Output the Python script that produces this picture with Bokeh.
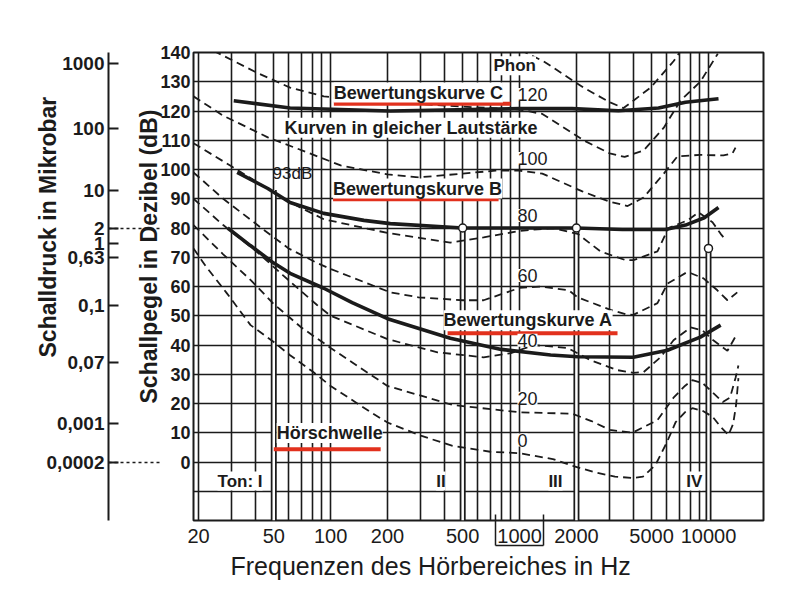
from bokeh.plotting import figure
from bokeh.models import FixedTicker, LinearAxis, LogAxis, Label, Title
from bokeh.embed import file_html
from bokeh.resources import INLINE

# ---------------- data ----------------
x_ticks = [20, 50, 100, 200, 500, 1000, 2000, 5000, 10000]
x_tick_labels = ["20", "50", "100", "200", "500", "1000", "2000", "5000", "10000"]
x_grid = [20, 30, 40, 50, 60, 70, 80, 90, 100, 200, 300, 400, 500, 600, 700, 800, 900,
          1000, 2000, 3000, 4000, 5000, 6000, 7000, 8000, 9000, 10000, 20000]
db_ticks = list(range(0, 141, 10))
db_grid = list(range(-20, 141, 10))
mb_labels = ["1000", "100", "10", "2", "1", "0,63", "0,1", "0,07", "0,001", "0,0002"]
mb_db = [136.2, 114, 92.8, 80, 74.7, 69.9, 53.5, 34, 13.2, 0]

# equal loudness contours (Phon)
p0_f = [18.8, 21.8, 28, 37.7, 50, 61, 80, 100, 163, 200, 300, 442, 700, 1000, 1500, 1950, 2500,
        3200, 4000, 4500, 5240, 6000, 6700, 7500, 8220, 9300, 10500, 11600, 12750, 13500, 14000, 14400]
p0_db = [73, 67, 58, 46.8, 41, 36.5, 31, 26, 17, 13.5, 9, 5.5, 3.5, 3, 1, -1.5, -3.5,
         -5, -5.5, -5, -1, 6.5, 13.6, 17, 18.4, 17.5, 15.5, 12, 9.2, 13, 19.5, 28.7]
p20_f = [18.8, 27, 38, 50, 70, 100, 200, 442, 1000, 1900, 2400, 3000, 3950, 5370, 6530, 7500,
         8220, 9300, 10200, 11900, 13000, 13900, 14400]
p20_db = [81, 71, 62, 54, 46, 39, 26, 19.5, 17, 16.5, 14, 11, 10, 14.3, 22, 26,
          28, 27, 24.6, 20.5, 22, 28.7, 33]
p40_f = [18.8, 27, 41, 56, 85, 100, 200, 368, 645, 900, 1190, 1790, 2380, 3300, 4000, 4530,
         5570, 6530, 8050, 9300, 10600, 12600, 14200]
p40_db = [90, 81, 71.7, 63.8, 53.6, 50, 42, 37.5, 35.8, 37.2, 40, 39, 34.8, 31.4, 30.5, 30.7,
          35.8, 41.6, 46, 45, 41.6, 38, 44]
p60_f = [18.8, 27, 44, 60, 85, 100, 207, 292, 500, 645, 1000, 1290, 1820, 2030, 3030, 3640,
         4000, 5370, 6070, 7740, 9410, 11140, 12600, 14200]
p60_db = [99, 90, 79.5, 73, 68, 66, 58, 56.3, 55.3, 55.3, 59.5, 60, 58.7, 56.3, 52, 50.5,
          50.3, 54.3, 61, 65, 62.8, 58.7, 55.3, 58]
p80_f = [18.8, 30, 41, 60, 92, 200, 430, 645, 1000, 1500, 2030, 2680, 3640, 4000, 5370, 6140,
         7740, 8860, 10500, 11600, 12300]
p80_db = [109, 101, 95.6, 89, 83, 78.3, 75, 76.8, 79, 80, 78, 72, 69, 69, 72, 80,
          82.6, 85.3, 82, 78, 76]
p100_f = [18.8, 27, 46.5, 75.5, 113, 200, 292, 500, 746, 1000, 1320, 2150, 3000, 3730, 4530,
          5800, 6850, 9000, 12000, 13400, 13900]
p100_db = [125, 118.4, 111, 105.8, 101.4, 98.3, 97.3, 98.6, 99.6, 99.6, 98.6, 92.5, 89, 87.5, 90.4,
           98.6, 104.5, 105, 104.8, 105.5, 107.5]
p120_f = [24, 41, 61, 92, 200, 500, 1000, 1320, 2180, 3000, 3600, 4530, 5800, 7100, 9050, 11200]
p120_db = [140.6, 133, 128, 125, 123, 121.5, 120.5, 119, 110, 105.5, 104.3, 106.5, 114.3, 123.5, 130, 139.6]
p140_f = [880, 1000, 1340, 2180, 3000, 3550, 4940, 6530, 7200]
p140_db = [143, 141, 137, 128, 123, 121, 128, 137, 141]

contours_f = [p0_f, p20_f, p40_f, p60_f, p80_f, p100_f, p120_f, p140_f]
contours_db = [p0_db, p20_db, p40_db, p60_db, p80_db, p100_db, p120_db, p140_db]
phon_values = ["120", "100", "80", "60", "40", "20", "0"]

# weighting curves A, B, C
c_f = [30.7, 61, 207, 1000, 1900, 3340, 5440, 7560, 11300]
c_db = [123.5, 121, 120, 120.8, 120.8, 120.1, 121, 123, 124.2]
b_f = [32, 46.5, 61, 92, 150, 207, 500, 1000, 2000, 3500, 5930, 7560, 9500, 11300]
b_db = [99, 93.5, 88.7, 85, 82.6, 81.5, 80, 80, 80, 79.5, 79.5, 81, 83.5, 87]
a_f = [28.5, 37.6, 50, 61, 92, 130, 200, 430, 800, 1460, 2030, 4000, 6070, 9050, 11600]
a_db = [80, 74, 68, 64.5, 59.4, 54.5, 49, 42.3, 38.5, 36.6, 36, 35.8, 38.2, 42.7, 46.8]

# test tones
tone_f = [50, 500, 2000, 10000]
tone_top = [93, 80, 80, 73]
tone_names = ["Ton: I", "II", "III", "IV"]
mark_f = [500, 2000, 10000]
mark_db = [80, 80, 73]

# ---------------- figure ----------------
FONT = "Liberation Sans"
INK = "#1b1b1b"

p = figure(width=785, height=590, x_axis_type="log", x_range=(18.8, 19550), y_range=(-20, 140),
           output_backend="svg", toolbar_location=None,
           min_border_left=193, min_border_right=22, min_border_top=52, min_border_bottom=70)
p.background_fill_color = "white"
p.border_fill_color = "white"
p.outline_line_color = INK
p.outline_line_width = 2

# grid
p.xgrid.ticker = FixedTicker(ticks=x_grid)
p.ygrid.ticker = FixedTicker(ticks=db_grid)
for g in (p.xgrid, p.ygrid):
    g.grid_line_color = INK
    g.grid_line_width = 1.6
    g.grid_line_alpha = 1.0

# x axis
xa = p.xaxis[0]
xa.ticker = FixedTicker(ticks=x_ticks)
xa.major_label_overrides = {t: l for t, l in zip(x_ticks, x_tick_labels)}
xa.major_tick_in = 0
xa.major_tick_out = 0
xa.minor_tick_in = 0
xa.minor_tick_out = 0
xa.axis_line_color = None
xa.major_label_standoff = 8
xa.major_label_text_font = FONT
xa.major_label_text_font_size = "20px"
xa.major_label_text_color = INK

# box around the "1000" tick label: a bounded, label-less log axis whose
# axis line is the lower edge and whose inward ticks are the two sides
box_edges = [746, 1340]
box_axis = LogAxis(ticker=FixedTicker(ticks=box_edges), bounds=(745, 1341),
                   major_label_overrides={v: "" for v in box_edges},
                   major_label_text_font_size="0px", major_label_standoff=0,
                   major_tick_in=31, major_tick_out=0, major_tick_line_width=1.5,
                   major_tick_line_color=INK, minor_tick_in=0, minor_tick_out=0,
                   axis_line_width=1.5, axis_line_color=INK)
p.add_layout(box_axis, "below")

p.add_layout(Title(text="Frequenzen des Hörbereiches in Hz", align="left", offset=37, standoff=8,
                   text_font=FONT, text_font_size="25px", text_font_style="normal",
                   text_color=INK), "below")

# dB axis
ya = p.yaxis[0]
ya.ticker = FixedTicker(ticks=db_ticks)
ya.major_tick_in = 0
ya.major_tick_out = 0
ya.minor_tick_in = 0
ya.minor_tick_out = 0
ya.axis_line_color = None
ya.major_label_standoff = 3
ya.major_label_text_font = FONT
ya.major_label_text_font_size = "18px"
ya.major_label_text_font_style = "bold"
ya.major_label_text_color = INK
t_db = Title(text="Schallpegel in Dezibel (dB)", align="left", offset=117, standoff=0,
             text_font=FONT, text_font_size="23px", text_font_style="bold", text_color=INK)
gap = 21
try:
    t_db.standoff = -8
    gap = 29
except Exception:
    pass
p.add_layout(t_db, "left")

# spacer axis (gap between the two scales)
spacer = LinearAxis(ticker=FixedTicker(ticks=[60]), major_label_overrides={60: ""},
                    major_tick_out=gap, major_tick_in=0, major_tick_line_color=None,
                    minor_tick_out=0, minor_tick_in=0, axis_line_color=None,
                    major_label_standoff=0)
p.add_layout(spacer, "left")

# Mikrobar axis
mb = LinearAxis(ticker=FixedTicker(ticks=mb_db, minor_ticks=[80, 0]),
                major_label_overrides={v: l for v, l in zip(mb_db, mb_labels)},
                major_tick_in=10, major_tick_out=0, major_tick_line_width=2, major_tick_line_color=INK,
                minor_tick_in=52, minor_tick_out=0, minor_tick_line_dash="3 3",
                minor_tick_line_width=1.5, minor_tick_line_color=INK,
                axis_line_width=2, axis_line_color=INK,
                major_label_standoff=4, major_label_text_font=FONT,
                major_label_text_font_size="19px", major_label_text_font_style="bold",
                major_label_text_color=INK)
p.add_layout(mb, "left")
t_mb = Title(text="Schalldruck in Mikrobar", align="left", offset=163, standoff=0,
             text_font=FONT, text_font_size="23px", text_font_style="bold", text_color=INK)
try:
    t_mb.standoff = -34
except Exception:
    pass
p.add_layout(t_mb, "left")

# tone bars (white double lines)
bottoms = [-20] * len(tone_f)
p.segment(x0=tone_f, y0=tone_top, x1=tone_f, y1=bottoms, line_color=INK, line_width=6)
p.segment(x0=tone_f, y0=tone_top, x1=tone_f, y1=bottoms, line_color="white", line_width=2.5)

# contours
for cf, cd in zip(contours_f, contours_db):
    p.line(cf, cd, line_color=INK, line_width=1.8, line_dash="8 5")

# weighting curves
for cf, cd in ((c_f, c_db), (b_f, b_db), (a_f, a_db)):
    p.line(cf, cd, line_color=INK, line_width=3.6)

p.scatter(mark_f, mark_db, size=8, fill_color="white", line_color=INK, line_width=1.5)

# red underlines (annotation decorations)
RED = "#e2311d"
ul_x0 = [104, 103, 416, 50]
ul_x1 = [896, 774, 3300, 184]
ul_y = [122.5, 89.8, 44, 4.4]
p.segment(x0=ul_x0, y0=ul_y, x1=ul_x1, y1=ul_y, line_color=RED, line_width=4)


def lab(x, y, text, size="18px", style="bold", align="left", bg="white", **kw):
    p.add_layout(Label(x=x, y=y, text=text, text_font=FONT, text_font_size=size,
                       text_font_style=style, text_align=align, text_baseline="middle",
                       text_color=INK, background_fill_color=bg, **kw))


lab(104, 126.3, "Bewertungskurve C")
lab(57, 114.3, "Kurven in gleicher Lautstärke")
lab(103, 93.5, "Bewertungskurve B")
lab(49.3, 98.6, "93dB", size="17px", style="normal", bg=None)
lab(396, 48.5, "Bewertungskurve A")
lab(51.8, 9.9, "Hörschwelle")
lab(728, 135.5, "Phon", size="17px")

phon_y = [125.6, 103.8, 84.3, 63.8, 41.6, 21.8, 7.5]
for t, yy in zip(phon_values, phon_y):
    lab(975, yy, t, size="18px", style="normal")

tone_lab_x = [43.6, 406, 1689, 9280]
for t, xx in zip(tone_names, tone_lab_x):
    lab(xx, -6.5, t, size="17px", align="right")

open("out.html", "w").write(file_html(p, INLINE))
